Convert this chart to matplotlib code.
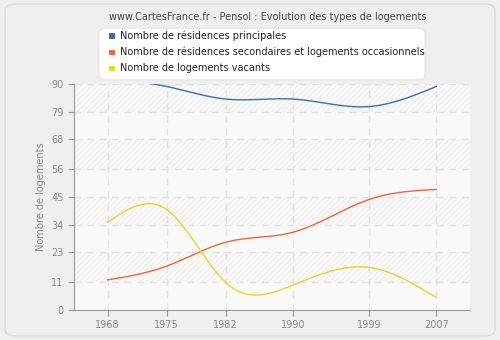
import numpy as np
import matplotlib
matplotlib.use("Agg")
import matplotlib.pyplot as plt
from matplotlib.patches import FancyBboxPatch

years = [1968, 1975, 1982, 1990, 1999, 2007]
principales = [92, 89, 84, 84, 81, 89]
secondaires = [12, 17.5, 27, 31, 44, 48]
vacants = [35, 40, 11, 10, 17, 5]
yticks = [0, 11, 23, 34, 45, 56, 68, 79, 90]
labels = ["Nombre de résidences principales",
          "Nombre de résidences secondaires et logements occasionnels",
          "Nombre de logements vacants"]
colors = ["#3e6fa7", "#e8693a", "#e0d930"]


def natural_spline(x, y, n=300):
    x = np.asarray(x, float); y = np.asarray(y, float)
    k = len(x); h = np.diff(x)
    A = np.zeros((k, k)); b = np.zeros(k)
    A[0, 0] = A[-1, -1] = 1
    for i in range(1, k - 1):
        A[i, i - 1] = h[i - 1]; A[i, i] = 2 * (h[i - 1] + h[i]); A[i, i + 1] = h[i]
        b[i] = 3 * ((y[i + 1] - y[i]) / h[i] - (y[i] - y[i - 1]) / h[i - 1])
    c = np.linalg.solve(A, b)
    xs = np.linspace(x[0], x[-1], n); ys = np.empty_like(xs)
    for j, xv in enumerate(xs):
        i = min(np.searchsorted(x, xv, side="right") - 1, k - 2)
        d = xv - x[i]
        bb = (y[i + 1] - y[i]) / h[i] - h[i] * (2 * c[i] + c[i + 1]) / 3
        dd = (c[i + 1] - c[i]) / (3 * h[i])
        ys[j] = y[i] + bb * d + c[i] * d ** 2 + dd * d ** 3
    return xs, ys


plt.rcParams["hatch.linewidth"] = 0.5
fig = plt.figure(figsize=(5, 3.4), dpi=100, facecolor="#efefef")
panel = FancyBboxPatch((0.01, 0.012), 0.98, 0.976, boxstyle="round,pad=0,rounding_size=0.02",
                       transform=fig.transFigure, facecolor="#efefef", edgecolor="#dddddd", lw=1,
                       zorder=-10)
fig.patches.append(panel)

ax = fig.add_axes([0.148, 0.088, 0.792, 0.665])
ax.set_facecolor("#f9f9f9")
ax.set_xlim(1964, 2011)
ax.set_ylim(0, 90)
for lo, hi in [(79, 90), (56, 68), (34, 45), (11, 23)]:
    ax.axhspan(lo, hi, facecolor="none", edgecolor="#e8e8e8", hatch="//////", lw=0, zorder=0)

for vals, col in zip([principales, secondaires, vacants], colors):
    xs, ys = natural_spline(years, vals)
    ax.plot(xs, ys, color=col, lw=1, zorder=3, clip_on=True)

ax.set_xticks(years)
ax.set_yticks(yticks)
ax.grid(True, color="#e2e2e2", ls=(0, (5, 4)), lw=1)
ax.set_axisbelow(True)
for s in ["top", "right"]:
    ax.spines[s].set_visible(False)
for s in ["left", "bottom"]:
    ax.spines[s].set_color("#999999")
ax.tick_params(colors="#999999", labelcolor="#888888", labelsize=7, length=4)
ax.set_ylabel("Nombre de logements", color="#888888", fontsize=7)

fig.text(0.535, 0.95, "www.CartesFrance.fr - Pensol : Evolution des types de logements",
         ha="center", va="center", fontsize=7, color="#444444")

leg_box = FancyBboxPatch((0.198, 0.765), 0.652, 0.152, boxstyle="round,pad=0,rounding_size=0.015",
                         transform=fig.transFigure, facecolor="white", edgecolor="#e5e5e5", lw=0.8,
                         zorder=5)
fig.patches.append(leg_box)
for i, (lab, col) in enumerate(zip(labels, colors)):
    y = 0.895 - i * 0.048
    fig.patches.append(plt.Rectangle((0.218, y - 0.009), 0.011, 0.016, transform=fig.transFigure,
                                     facecolor=col, edgecolor="none", zorder=6))
    fig.text(0.24, y, lab, ha="left", va="center", fontsize=7, color="#222222", zorder=7)

fig.savefig("out.png", dpi=100, facecolor=fig.get_facecolor())
